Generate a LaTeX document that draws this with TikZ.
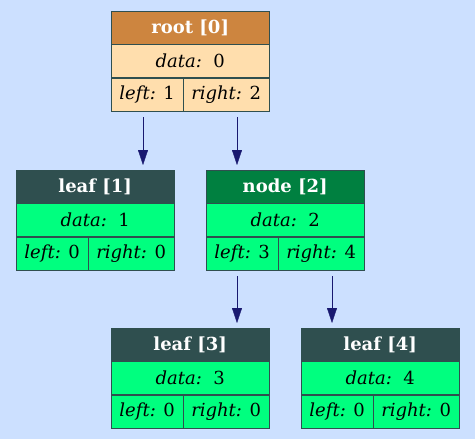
\documentclass[tikz,border=0pt]{standalone}
\usepackage{fontspec}
\setmainfont{DejaVu Serif}
\usepackage{xcolor}
\usetikzlibrary{positioning,arrows.meta}
\definecolor{bgblue}{HTML}{CCE0FF}
\definecolor{rimgray}{HTML}{2F4F4F}
\definecolor{rootbrown}{HTML}{CD853F}
\definecolor{rootbody}{HTML}{FFDEAD}
\definecolor{leafhead}{HTML}{2F4F4F}
\definecolor{leafbody}{HTML}{00FF7F}
\definecolor{nodehead}{HTML}{008040}
\definecolor{edgeblue}{HTML}{191970}
\tikzset{
    rec-head/.style = {draw=rimgray, rectangle, minimum width=158pt, minimum height=33pt, inner sep=0pt, text=white, font=\fontsize{18}{20}\selectfont\bfseries, anchor=north west},
    rec-row/.style = {draw=rimgray, rectangle, minimum width=158pt, minimum height=33pt, inner sep=0pt, font=\fontsize{18}{20}\selectfont},
    rec-cell/.style = {draw=rimgray, rectangle, minimum height=33pt, inner sep=0pt, font=\fontsize{18}{20}\selectfont},
    link/.style = {draw=edgeblue, -{Triangle[length=15pt,width=10pt]}, shorten <=6pt, shorten >=5pt},
}

\begin{document}
\begin{tikzpicture}[x=1pt,y=-1pt]
\fill[bgblue] (0,0) rectangle (475,439);
\useasboundingbox (0,0) rectangle (475,439);

% root
\node [rec-head, fill=rootbrown] (r0) at (111,11) {root [0]};
\node [rec-row, fill=rootbody, below=0pt of r0] (r0d) {\textit{data:}\ \ 0};
\node [rec-cell, fill=rootbody, minimum width=72pt, anchor=north west] (r0l) at (r0d.south west) {\textit{left:} 1};
\node [rec-cell, fill=rootbody, minimum width=86pt, anchor=north east] (r0r) at (r0d.south east) {\textit{right:} 2};

% leaf 1
\node [rec-head, fill=leafhead] (l1) at (16,170) {leaf [1]};
\node [rec-row, fill=leafbody, below=0pt of l1] (l1d) {\textit{data:}\ \ 1};
\node [rec-cell, fill=leafbody, minimum width=72pt, anchor=north west] (l1l) at (l1d.south west) {\textit{left:} 0};
\node [rec-cell, fill=leafbody, minimum width=86pt, anchor=north east] (l1r) at (l1d.south east) {\textit{right:} 0};

% node 2
\node [rec-head, fill=nodehead] (n2) at (206,170) {node [2]};
\node [rec-row, fill=leafbody, below=0pt of n2] (n2d) {\textit{data:}\ \ 2};
\node [rec-cell, fill=leafbody, minimum width=72pt, anchor=north west] (n2l) at (n2d.south west) {\textit{left:} 3};
\node [rec-cell, fill=leafbody, minimum width=86pt, anchor=north east] (n2r) at (n2d.south east) {\textit{right:} 4};

% leaf 3
\node [rec-head, fill=leafhead] (l3) at (111,328) {leaf [3]};
\node [rec-row, fill=leafbody, below=0pt of l3] (l3d) {\textit{data:}\ \ 3};
\node [rec-cell, fill=leafbody, minimum width=72pt, anchor=north west] (l3l) at (l3d.south west) {\textit{left:} 0};
\node [rec-cell, fill=leafbody, minimum width=86pt, anchor=north east] (l3r) at (l3d.south east) {\textit{right:} 0};

% leaf 4
\node [rec-head, fill=leafhead] (l4) at (301,328) {leaf [4]};
\node [rec-row, fill=leafbody, below=0pt of l4] (l4d) {\textit{data:}\ \ 4};
\node [rec-cell, fill=leafbody, minimum width=72pt, anchor=north west] (l4l) at (l4d.south west) {\textit{left:} 0};
\node [rec-cell, fill=leafbody, minimum width=86pt, anchor=north east] (l4r) at (l4d.south east) {\textit{right:} 0};

% links
\draw [link] ([xshift=32pt]r0l.south west) -- ([xshift=32pt]r0l.south west |- l1.north);
\draw [link] ([xshift=54pt]r0r.south west) -- ([xshift=54pt]r0r.south west |- n2.north);
\draw [link] ([xshift=31pt]n2l.south west) -- ([xshift=31pt]n2l.south west |- l3.north);
\draw [link] ([xshift=54pt]n2r.south west) -- ([xshift=54pt]n2r.south west |- l4.north);
\end{tikzpicture}
\end{document}
